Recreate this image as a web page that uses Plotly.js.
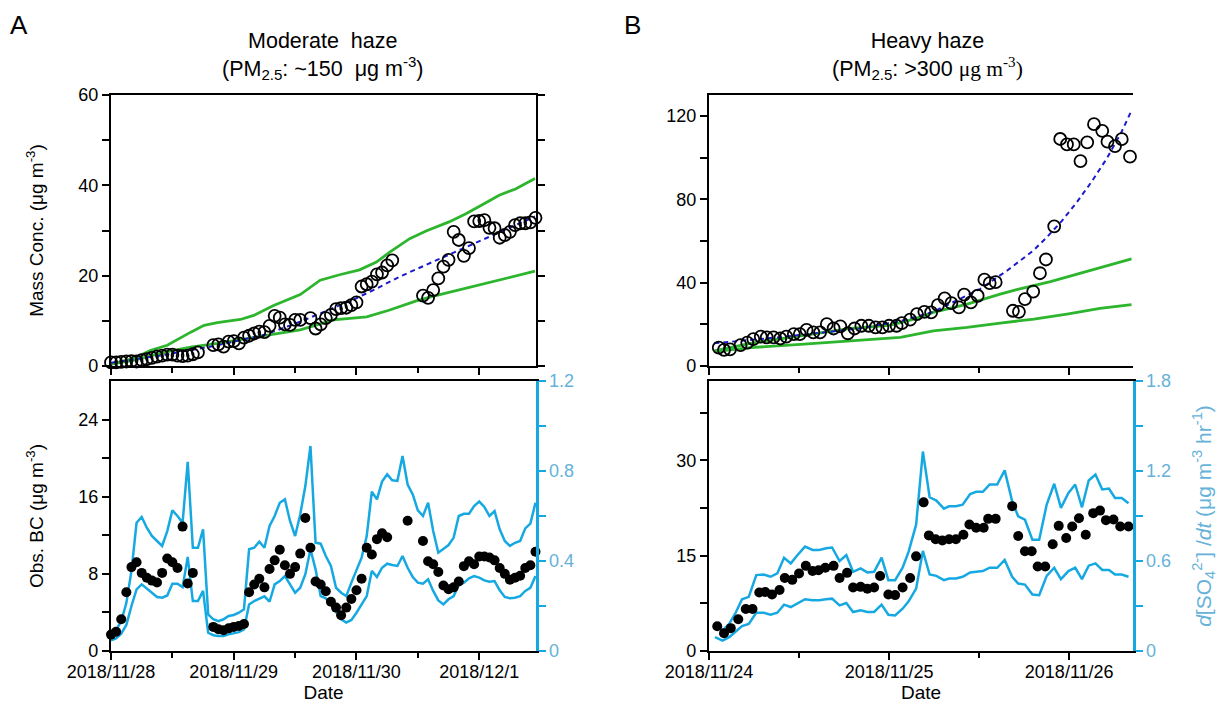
<!DOCTYPE html>
<html><head><meta charset="utf-8">
<script src="https://cdn.plot.ly/plotly-3.0.1.min.js"></script>
<style>html,body{margin:0;padding:0;background:#fff}</style>
</head><body>
<div id="chart" style="width:1220px;height:709px"></div>
<script>
// ---------- Panel A (moderate haze), x in hours from 2018/11/28 00:00 ----------
var aTickVals = [0, 24, 48, 72];
var aTickText = ["2018/11/28", "2018/11/29", "2018/11/30", "2018/12/1"];

var aMassHours = [0,1,2,3,4,5,6,7,8,9,10,11,12,13,14,15,16,17,
  20,21,22,23,24,25,26,27,28,29,30,31,32,33,34,35,36,37,
  39,40,41,42,43,44,45,46,47,48,49,50,51,52,53,54,55,
  61,62,63,64,65,66,67,68,69,70,71,72,73,74,75,76,77,78,79,80,81,82,83];
var aMass = [0.8,0.8,0.9,1.0,1.1,1.0,1.3,1.5,1.8,2.1,2.3,2.5,2.5,2.3,2.2,2.3,2.6,3.0,
  4.6,4.8,4.3,5.4,5.5,5.0,6.3,6.7,7.2,7.6,7.5,8.9,11.1,10.7,9.2,9.1,10.2,10.2,
  10.6,8.3,9.2,10.6,11.3,12.6,12.8,12.9,13.5,14.1,17.6,18.1,18.7,20.3,20.7,22.3,23.4,
  15.6,15.1,16.8,19.4,22.0,23.5,29.7,27.9,24.4,26.1,32.0,32.1,32.3,30.6,30.5,28.4,29.0,29.7,31.2,31.6,31.6,31.8,32.8];

var aGreenUpHours = [0,4.5,7.8,11,15.6,18.2,20.8,25.3,27.9,31.8,37,40.9,44.7,48.6,51.9,54.5,58.4,61.6,66.1,69.4,72.6,75.9,79.1,82.9];
var aGreenUp = [0.4,1.7,3.5,4.6,7.5,9.0,9.6,10.3,11.2,13.4,15.8,19.0,20.2,21.3,23.0,25.2,28.2,29.9,31.9,33.7,35.7,37.8,39.2,41.5];
var aGreenLoHours = [0,4.5,11,15.6,20.8,25.3,30.5,37,43.5,50,54.5,59.7,62.9,69.4,75.9,82.9];
var aGreenLo = [0.4,1.3,3.2,4.2,5.0,5.8,6.7,8.0,10.2,10.9,12.4,14.4,15.4,17.2,19.0,21.0];
var aFitHours = [0,10,20,30,37,43.5,48,52,56.5,63,69.4,75.9,82.9];
var aFit = [0.7,2.4,4.4,6.9,9.8,12.8,15.0,17.2,19.8,23.1,26.3,29.7,33.1];

var aBCHours = [0,1,2,3,4,5,6,7,8,9,10,11,12,13,14,15,16,
  20,21,22,23,24,25,26,27,28,29,30,31,32,33,34,35,36,37,38,39,40,41,42,43,44,45,46,47,48,49,50,51,52,53,54,
  58,
  61,62,63,64,65,66,67,68,69,70,71,72,73,74,75,76,77,78,79,80,81,82,83];
var aBC = [1.7,2.0,3.3,6.1,8.7,9.2,8.1,7.6,7.3,7.1,8.1,9.6,9.2,8.6,12.9,7.0,8.1,
  2.5,2.25,2.15,2.35,2.5,2.6,2.8,6.1,6.9,7.5,6.6,8.5,9.4,10.5,8.9,8.0,8.7,10.1,13.8,10.7,7.2,6.9,6.2,5.1,4.5,3.7,4.5,5.4,6.3,7.5,10.7,10.0,11.6,12.2,11.8,
  13.5,
  11.4,9.3,9.0,8.2,6.8,6.4,6.6,7.2,8.8,9.3,9.0,9.8,9.8,9.7,9.4,8.6,8.0,7.4,7.6,7.8,8.6,8.9,10.3];

var aRateHours = [0,1,2,3,4,5,6,7,8,9,10,11,12,13,14,15,16,17,18,19,20,21,22,23,24,25,26,27,28,29,30,31,32,33,34,35,36,37,38,39,40,41,
  42,43,44,45,46,47,48,49,50,51,52,53,54,55,56,57,58,59,60,61,62,63,64,65,66,67,68,69,70,71,72,73,74,75,76,77,78,79,80,81,82,83];
var aRateUp = [0.052,0.096,0.133,0.213,0.356,0.570,0.596,0.548,0.511,0.489,0.467,0.533,0.625,0.600,0.570,0.841,0.459,0.459,0.541,0.163,
  0.141,0.133,0.141,0.156,0.160,0.170,0.185,0.452,0.459,0.486,0.459,0.556,0.600,0.659,0.674,0.578,0.511,0.607,0.733,0.911,
  0.481,0.477,0.422,0.378,0.281,0.259,0.244,0.304,0.356,0.415,0.511,0.708,0.674,0.753,0.785,0.759,0.756,0.867,0.740,0.696,
  0.625,0.600,0.659,0.533,0.437,0.452,0.471,0.504,0.600,0.610,0.610,0.644,0.664,0.640,0.600,0.622,0.541,0.489,0.467,0.481,
  0.489,0.545,0.566,0.659];
var aRateLo = [0.047,0.056,0.077,0.116,0.200,0.274,0.296,0.279,0.259,0.240,0.237,0.247,0.299,0.299,0.284,0.418,0.222,0.222,0.267,0.081,
  0.070,0.067,0.067,0.074,0.080,0.084,0.096,0.207,0.222,0.234,0.243,0.219,0.296,0.311,0.333,0.296,0.259,0.281,0.341,0.452,
  0.363,0.244,0.234,0.207,0.175,0.141,0.126,0.138,0.170,0.207,0.244,0.356,0.329,0.370,0.388,0.382,0.378,0.422,0.370,0.329,
  0.304,0.299,0.319,0.267,0.225,0.207,0.230,0.244,0.293,0.304,0.323,0.333,0.326,0.314,0.308,0.311,0.270,0.240,0.234,0.237,
  0.244,0.267,0.281,0.333];

// ---------- Panel B (heavy haze), x in hours from 2018/11/24 00:00 ----------
var bTickVals = [0, 24, 48];
var bTickText = ["2018/11/24", "2018/11/25", "2018/11/26"];

var bMassHours = [1.3,2.0,2.8,4.2,5.1,5.9,6.9,7.7,8.6,9.5,10.3,11.3,12.1,13.0,13.9,14.8,15.7,16.6,17.5,18.5,
  19.4,20.3,21.3,22.2,23.1,24.0,25.0,25.7,26.8,27.7,28.7,29.6,30.5,31.4,32.3,33.3,34.0,34.9,35.8,36.7,37.4,38.2,
  40.5,41.3,42.1,43.2,44.1,44.9,46.0,46.8,47.7,48.6,49.5,50.4,51.3,52.4,53.1,54.1,55.0,56.1];
var bMass = [8.8,7.7,8.0,10.0,11.2,12.9,14.1,13.7,13.7,13.2,14.1,15.3,15.3,17.3,16.1,16.1,20.1,18.0,19.0,15.7,
  18.0,19.3,19.3,18.5,18.5,19.3,19.3,20.6,22.2,24.9,26.0,25.7,29.2,32.4,30.2,28.1,34.2,30.5,33.7,41.4,39.8,40.2,
  26.5,26.0,32.1,35.7,44.5,51.1,67.0,108.9,106.3,106.3,98.3,107.3,116.0,112.8,107.6,105.5,108.8,100.4];

var bGreenUpHours = [0.7,5.5,12.2,18.9,24.2,27.3,29.9,34.4,38.8,41.0,45.5,49.9,53.0,56.3];
var bGreenUp = [7.2,10.9,14.5,18.0,19.6,22.5,25.7,29.7,34.5,36.6,40.5,45.0,48.2,51.4];
var bGreenLoHours = [0.7,5.5,12.2,18.9,25.5,29.9,34.4,38.8,43.3,47.7,52.1,56.3];
var bGreenLo = [6.9,8.8,10.4,12.0,13.7,16.9,18.5,20.6,22.5,24.9,27.6,29.4];
var bFitHours = [0.7,10,20,25.5,29.9,33,36.1,39.7,43.2,45,47,49,51,53,55,56.3];
var bFit = [10.9,14.0,18.0,21.5,26.0,31.3,36.9,45.7,55.3,61.7,69.5,78.5,88.5,99.5,112.5,122.5];

var bBCHours = [1.1,2.0,2.9,3.9,4.9,5.8,6.7,7.5,8.4,9.4,10.1,11.1,12.0,12.9,13.8,14.6,15.5,16.6,17.4,18.4,
  19.2,20.2,21.1,22.0,22.8,23.9,24.8,25.8,26.8,27.6,28.6,29.3,30.2,31.1,32.0,32.9,33.9,34.7,35.6,36.6,37.2,38.2,
  40.4,41.2,42.1,43.0,43.8,44.8,45.8,46.6,47.6,48.4,49.3,50.2,51.2,52.1,52.9,53.9,54.8,55.9];
var bBC = [3.9,2.8,3.6,5.0,6.6,6.6,9.2,9.3,8.9,9.6,11.5,11.2,12.2,13.4,12.6,12.7,13.1,13.4,11.5,12.3,
  10.0,10.1,9.8,10.0,11.8,8.9,8.8,10.0,11.5,14.9,23.4,18.2,17.6,17.4,17.6,17.6,18.3,19.9,19.4,19.4,20.8,20.8,
  22.8,18.1,15.7,15.7,13.3,13.3,16.8,19.7,17.8,19.6,20.9,18.3,21.7,22.1,20.6,20.7,19.6,19.6];

var bRateHours = [0.8,1.8,2.7,3.6,4.4,5.3,6.3,7.3,8.2,9.1,10.0,10.9,11.8,12.8,13.8,14.7,15.6,16.4,17.4,18.3,
  19.2,20.2,21.1,22.0,23.0,23.9,24.8,25.8,26.6,27.6,28.5,29.4,30.3,31.3,32.0,32.9,33.8,34.8,35.6,36.5,
  37.4,38.4,39.4,40.4,41.2,42.1,43.1,44.0,45.0,46.0,46.9,47.9,48.8,49.7,50.6,51.5,52.4,53.3,54.1,55.0,55.9];
var bRateUp = [0.181,0.137,0.181,0.260,0.345,0.361,0.506,0.510,0.495,0.517,0.622,0.584,0.640,0.696,0.674,0.674,0.685,0.690,0.600,0.640,
  0.528,0.551,0.524,0.528,0.622,0.472,0.472,0.555,0.662,0.842,1.330,1.025,1.003,0.949,0.965,0.965,0.976,1.047,1.061,1.061,
  1.110,1.110,1.204,0.998,0.898,0.875,0.741,0.741,0.976,1.115,0.954,1.054,1.110,0.958,1.137,1.177,1.077,1.083,1.020,1.020,0.985];
var bRateLo = [0.092,0.069,0.092,0.130,0.166,0.181,0.255,0.255,0.242,0.255,0.309,0.293,0.316,0.345,0.338,0.338,0.345,0.349,0.304,0.320,
  0.260,0.271,0.260,0.260,0.309,0.242,0.237,0.282,0.331,0.416,0.667,0.510,0.501,0.472,0.483,0.483,0.495,0.524,0.528,0.533,
  0.555,0.555,0.607,0.495,0.450,0.443,0.376,0.372,0.501,0.555,0.479,0.533,0.555,0.479,0.569,0.584,0.540,0.540,0.510,0.510,0.495];

// ---------- styles ----------
var FONT = "Liberation Sans, Arial, sans-serif";
var GREEN = "#2db52d", BLUE = "#1a1acc", CYAN = "#16a9e1", CYANTXT = "#66b2d8";
var TICK = 18, TITLE = 19;

function openCircles(x, y, xa, ya) {
  return {x: x, y: y, xaxis: xa, yaxis: ya, type: "scatter", mode: "markers", cliponaxis: false,
    marker: {symbol: "circle-open", size: 12, color: "#000", line: {width: 1.8, color: "#000"}}};
}
function dots(x, y, xa, ya) {
  return {x: x, y: y, xaxis: xa, yaxis: ya, type: "scatter", mode: "markers", cliponaxis: false,
    marker: {symbol: "circle", size: 10, color: "#000"}};
}
function line(x, y, xa, ya, color, width, dash) {
  return {x: x, y: y, xaxis: xa, yaxis: ya, type: "scatter", mode: "lines", cliponaxis: false,
    line: {color: color, width: width, dash: dash || "solid"}};
}

var traces = [
  line(aGreenUpHours, aGreenUp, "x", "y", GREEN, 2.8),
  line(aGreenLoHours, aGreenLo, "x", "y", GREEN, 2.8),
  line(aFitHours, aFit, "x", "y", BLUE, 2, "5px,4px"),
  openCircles(aMassHours, aMass, "x", "y"),
  line(aRateHours, aRateUp, "x2", "y2", CYAN, 2.5),
  line(aRateHours, aRateLo, "x2", "y2", CYAN, 2.5),
  dots(aBCHours, aBC, "x2", "y3"),
  line(bGreenUpHours, bGreenUp, "x3", "y4", GREEN, 2.8),
  line(bGreenLoHours, bGreenLo, "x3", "y4", GREEN, 2.8),
  line(bFitHours, bFit, "x3", "y4", BLUE, 2, "5px,4px"),
  openCircles(bMassHours, bMass, "x3", "y4"),
  line(bRateHours, bRateUp, "x4", "y6", CYAN, 2.5),
  line(bRateHours, bRateLo, "x4", "y6", CYAN, 2.5),
  dots(bBCHours, bBC, "x4", "y7")
];

var LX = [111/1220, 536/1220], RX = [709/1220, 1133/1220];
var TY = [1 - 366/709, 1 - 95/709], BY = [1 - 651/709, 1 - 381/709];
var tickFont = {family: FONT, size: TICK, color: "#000"};

function baseAxis(extra) {
  var a = {showgrid: false, zeroline: false, showline: true, linecolor: "#000", linewidth: 2.2,
    ticks: "outside", ticklen: 7, tickwidth: 2, tickcolor: "#000", tickfont: tickFont, fixedrange: true};
  for (var k in extra) a[k] = extra[k];
  return a;
}
function minorTicks(vals, color, len) {
  return {tickvals: vals, ticklen: len || 7, tickwidth: 2, ticks: "outside", tickcolor: color || "#000"};
}

var layout = {
  width: 1220, height: 709, autosize: false, showlegend: false,
  margin: {l: 0, r: 0, t: 0, b: 0},
  paper_bgcolor: "#fff", plot_bgcolor: "rgba(0,0,0,0)",
  font: {family: FONT, size: TICK, color: "#000"},
  // panel A top
  xaxis: baseAxis({domain: LX, anchor: "y", range: [0, 83.1], tickmode: "array", tickvals: aTickVals,
    showticklabels: false, mirror: true, minor: minorTicks([12, 36, 60], "#000", 5)}),
  yaxis: baseAxis({domain: TY, anchor: "x", range: [0, 60], tickmode: "array", tickvals: [0, 20, 40, 60],
    mirror: "ticks", minor: minorTicks([10, 30, 50]),
    title: {text: "Mass Conc. (μg m<sup>-3</sup>)", font: {family: FONT, size: TITLE}, standoff: 30}}),
  // panel A bottom
  xaxis2: baseAxis({domain: LX, anchor: "y2", range: [0, 83.1], tickmode: "array", tickvals: aTickVals, ticktext: aTickText,
    mirror: true, ticklabelstandoff: -4, minor: minorTicks([12, 36, 60], "#000", 5),
    title: {text: "Date", font: {family: FONT, size: TITLE}, standoff: 0}}),
  yaxis2: baseAxis({domain: BY, anchor: "x2", side: "right", range: [0, 1.2], tickmode: "array", tickvals: [0, 0.4, 0.8, 1.2],
    ticktext: ["0", "0.4", "0.8", "1.2"], linecolor: CYAN, linewidth: 2.5, tickcolor: CYAN,
    tickfont: {family: FONT, size: TICK, color: CYANTXT}, minor: minorTicks([0.2, 0.6, 1.0], CYAN)}),
  yaxis3: baseAxis({overlaying: "y2", anchor: "x2", side: "left", range: [0, 28], tickmode: "array", tickvals: [0, 8, 16, 24],
    minor: minorTicks([4, 12, 20]),
    title: {text: "Obs. BC (μg m<sup>-3</sup>)", font: {family: FONT, size: TITLE}, standoff: 30}}),
  // panel B top
  xaxis3: baseAxis({domain: RX, anchor: "y4", range: [0, 56.5], tickmode: "array", tickvals: bTickVals,
    showticklabels: false, mirror: true, minor: minorTicks([12, 36], "#000", 5)}),
  yaxis4: baseAxis({domain: TY, anchor: "x3", range: [0, 130], tickmode: "array", tickvals: [0, 40, 80, 120],
    minor: minorTicks([20, 60, 100])}),
  yaxis5: baseAxis({overlaying: "y4", anchor: "x3", side: "right", range: [0, 140], tickmode: "array",
    tickvals: [0, 20, 40, 60, 80, 100, 120, 140], showticklabels: false}),
  // panel B bottom
  xaxis4: baseAxis({domain: RX, anchor: "y6", range: [0, 56.5], tickmode: "array", tickvals: bTickVals, ticktext: bTickText,
    mirror: true, ticklabelstandoff: -4, minor: minorTicks([12, 36], "#000", 5),
    title: {text: "Date", font: {family: FONT, size: TITLE}, standoff: 0}}),
  yaxis6: baseAxis({domain: BY, anchor: "x4", side: "right", range: [0, 1.8], tickmode: "array", tickvals: [0, 0.6, 1.2, 1.8],
    ticktext: ["0", "0.6", "1.2", "1.8"], linecolor: CYAN, linewidth: 2.5, tickcolor: CYAN,
    tickfont: {family: FONT, size: TICK, color: CYANTXT}, minor: minorTicks([0.3, 0.9, 1.5], CYAN),
    title: {text: "<i>d</i>[SO<sub>4</sub><sup>2-</sup>] /<i>dt</i> (μg m<sup>-3</sup> hr<sup>-1</sup>)",
      font: {family: FONT, size: 21, color: CYANTXT}, standoff: 26}}),
  yaxis7: baseAxis({overlaying: "y6", anchor: "x4", side: "left", range: [0, 42.5], tickmode: "array", tickvals: [0, 15, 30],
    minor: minorTicks([7.5, 22.5, 37.5])}),
  annotations: [
    {xref: "paper", yref: "paper", x: 8/1220, y: 1 - 25/709, xanchor: "left", yanchor: "middle", showarrow: false,
      text: "A", font: {family: FONT, size: 26, color: "#000"}},
    {xref: "paper", yref: "paper", x: 622/1220, y: 1 - 25/709, xanchor: "left", yanchor: "middle", showarrow: false,
      text: "B", font: {family: FONT, size: 26, color: "#000"}},
    {xref: "paper", yref: "paper", x: 322/1220, y: 1 - 56/709, xanchor: "center", yanchor: "middle", showarrow: false,
      text: "Moderate\u00a0 haze<br>(PM<sub>2.5</sub>: ~150\u00a0 μg m<sup>-3</sup>)", font: {family: FONT, size: 21.5, color: "#000"}},
    {xref: "paper", yref: "paper", x: 927/1220, y: 1 - 56/709, xanchor: "center", yanchor: "middle", showarrow: false,
      text: "Heavy haze<br>(PM<sub>2.5</sub>: &gt;300 <span style=\"font-family:'Liberation Serif',serif\">μg m<sup>-3</sup>)</span>",
      font: {family: FONT, size: 21.5, color: "#000"}}
  ]
};

Plotly.newPlot("chart", traces, layout, {staticPlot: true, displayModeBar: false});
</script>
</body></html>
